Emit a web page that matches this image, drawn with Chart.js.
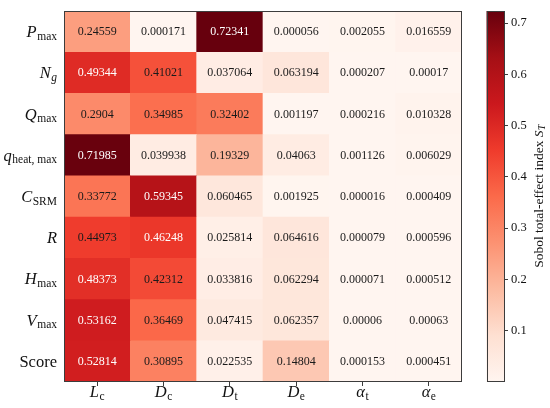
<!DOCTYPE html>
<html>
<head>
<meta charset="utf-8">
<script src="https://cdn.jsdelivr.net/npm/chart.js@4.4.0/dist/chart.umd.min.js"></script>
<style>
  html, body { margin: 0; padding: 0; background: #fff; }
  #wrap { width: 550px; height: 408px; }
</style>
</head>
<body>
<div id="wrap"><canvas id="heat"></canvas></div>
<script>
// Input parameters (columns) and model outputs (rows), as [symbol, subscript]
const inputLabels = [['L', 'c'], ['D', 'c'], ['D', 't'], ['D', 'e'], ['α', 't'], ['α', 'e']];
const outputLabels = [['P', 'max'], ['N', 'g'], ['Q', 'max'], ['q', 'heat, max'], ['C', 'SRM'],
                      ['R', ''], ['H', 'max'], ['V', 'max'], ['Score', '']];

// Sobol total-effect index S_T, one array per output
const stPmax  = [0.24559, 0.000171, 0.72341, 0.000056, 0.002055, 0.016559];
const stNg    = [0.49344, 0.41021, 0.037064, 0.063194, 0.000207, 0.00017];
const stQmax  = [0.2904, 0.34985, 0.32402, 0.001197, 0.000216, 0.010328];
const stQheat = [0.71985, 0.039938, 0.19329, 0.04063, 0.001126, 0.006029];
const stCsrm  = [0.33772, 0.59345, 0.060465, 0.001925, 0.000016, 0.000409];
const stR     = [0.44973, 0.46248, 0.025814, 0.064616, 0.000079, 0.000596];
const stHmax  = [0.48373, 0.42312, 0.033816, 0.062294, 0.000071, 0.000512];
const stVmax  = [0.53162, 0.36469, 0.047415, 0.062357, 0.00006, 0.00063];
const stScore = [0.52814, 0.30895, 0.022535, 0.14804, 0.000153, 0.000451];
const stRows = [stPmax, stNg, stQmax, stQheat, stCsrm, stR, stHmax, stVmax, stScore];

const cbTicks = [0.1, 0.2, 0.3, 0.4, 0.5, 0.6, 0.7];

// matplotlib "Reds" colormap
const redsStops = ['#fff5f0', '#fee0d2', '#fcbba1', '#fc9272', '#fb6a4a', '#ef3b2c', '#cb181d', '#a50f15', '#67000d'];
const FONT = '"Liberation Serif", "DejaVu Serif", serif';

const allVals = stRows.flat();
const vmin = Math.min(...allVals);
const vmax = Math.max(...allVals);

function hexToRgb(h) {
    return [1, 3, 5].map(i => parseInt(h.substr(i, 2), 16));
}
const redsRgb = redsStops.map(hexToRgb);

function reds(v) {
    let t = (v - vmin) / (vmax - vmin);
    t = Math.max(0, Math.min(1, t)) * (redsRgb.length - 1);
    const k = Math.min(Math.floor(t), redsRgb.length - 2);
    const f = t - k;
    const a = redsRgb[k], b = redsRgb[k + 1];
    const c = a.map((x, i) => Math.round(x + (b[i] - x) * f));
    return `rgb(${c[0]},${c[1]},${c[2]})`;
}

// one floating bar per cell: row r spans [r, r+1] on the reversed y scale
const colKeys = inputLabels.map((l, j) => 'c' + j);
const cells = [];
stRows.forEach((row, r) => {
    row.forEach((v, j) => cells.push({ x: colKeys[j], y: [r, r + 1], v: v }));
});

// symbol with subscript, e.g. P_max
function drawSymbol(ctx, parts, x, y, align, size, subSize, subDrop) {
    const [base, sub] = parts;
    const baseFont = (base.length === 1 ? 'italic ' : '') + size + 'px ' + FONT;
    const subItalic = sub === 'g' || sub === 'T';
    const subFont = (subItalic ? 'italic ' : '') + subSize + 'px ' + FONT;
    ctx.font = baseFont;
    const wb = ctx.measureText(base).width;
    ctx.font = subFont;
    const ws = sub ? ctx.measureText(sub).width + 0.5 : 0;
    const w = wb + ws;
    let x0 = x;
    if (align === 'right') x0 = x - w;
    else if (align === 'center') x0 = x - w / 2;
    ctx.textAlign = 'left';
    ctx.textBaseline = 'alphabetic';
    ctx.font = baseFont;
    ctx.fillText(base, x0, y);
    if (sub) {
        ctx.font = subFont;
        ctx.fillText(sub, x0 + wb + 0.5, y + subDrop);
    }
}

const heatDecor = {
    id: 'heatDecor',
    afterDatasetsDraw(chart) {
        const { ctx, chartArea: a, scales } = chart;
        ctx.save();

        // cell annotations
        ctx.font = '12px ' + FONT;
        ctx.textAlign = 'center';
        ctx.textBaseline = 'middle';
        stRows.forEach((row, r) => {
            row.forEach((v, j) => {
                ctx.fillStyle = v > 0.455 ? '#ffffff' : '#1a1a1a';
                ctx.fillText(String(v), scales.x.getPixelForValue(j), scales.y.getPixelForValue(r + 0.5) + 0.5);
            });
        });

        // frame
        ctx.strokeStyle = '#3c3c3c';
        ctx.lineWidth = 1;
        ctx.strokeRect(a.left + 0.5, a.top + 0.5, a.right - a.left - 1, a.bottom - a.top - 1);

        // row labels
        ctx.fillStyle = '#111';
        outputLabels.forEach((lab, r) => {
            drawSymbol(ctx, lab, a.left - 7, scales.y.getPixelForValue(r + 0.5) + 5.5, 'right', 16.5, 11.5, 2.5);
        });

        // column labels
        inputLabels.forEach((lab, j) => {
            drawSymbol(ctx, lab, scales.x.getPixelForValue(j), 397, 'center', 16.5, 11.5, 2.5);
        });

        // colour bar
        const cb = scales.cb;
        const bw = 17.5;
        const x1 = cb.left;
        const x0 = x1 - bw;
        const g = ctx.createLinearGradient(0, cb.getPixelForValue(vmin), 0, cb.getPixelForValue(vmax));
        redsStops.forEach((c, k) => g.addColorStop(k / (redsStops.length - 1), c));
        ctx.fillStyle = g;
        ctx.fillRect(x0, cb.top, bw, cb.bottom - cb.top);
        ctx.strokeStyle = '#3c3c3c';
        ctx.strokeRect(Math.round(x0) + 0.5, cb.top + 0.5, Math.round(bw) - 1, cb.bottom - cb.top - 1);

        // colour bar label
        ctx.translate(539, (cb.top + cb.bottom) / 2);
        ctx.rotate(-Math.PI / 2);
        ctx.fillStyle = '#111';
        const txt = 'Sobol total-effect index ';
        ctx.font = '13.5px ' + FONT;
        const w1 = ctx.measureText(txt).width;
        ctx.font = 'italic 13.5px ' + FONT;
        const w2 = ctx.measureText('S').width;
        ctx.font = 'italic 9.5px ' + FONT;
        const w3 = ctx.measureText('T').width;
        const sx = -(w1 + w2 + w3) / 2;
        ctx.textAlign = 'left';
        ctx.textBaseline = 'middle';
        ctx.font = '13.5px ' + FONT;
        ctx.fillText(txt, sx, 0);
        ctx.font = 'italic 13.5px ' + FONT;
        ctx.fillText('S', sx + w1, 0);
        ctx.font = 'italic 9.5px ' + FONT;
        ctx.fillText('T', sx + w1 + w2 + 0.5, 3);

        ctx.restore();
    }
};

new Chart(document.getElementById('heat'), {
    type: 'bar',
    data: {
        labels: colKeys,
        datasets: [{
            data: cells,
            backgroundColor: cells.map(c => reds(c.v)),
            borderWidth: 0,
            barPercentage: 1,
            categoryPercentage: 1
        }]
    },
    options: {
        responsive: true,
        maintainAspectRatio: false,
        animation: false,
        events: [],
        layout: { padding: { top: 11, left: 0, right: 0, bottom: 0 } },
        plugins: { legend: { display: false }, tooltip: { enabled: false } },
        scales: {
            x: {
                type: 'category',
                position: 'bottom',
                offset: true,
                grid: { display: true, drawOnChartArea: false, drawTicks: true, tickLength: 4, offset: false, color: '#3c3c3c' },
                border: { display: false },
                ticks: { display: false },
                afterFit: s => { s.height = 26; }
            },
            y: {
                type: 'linear',
                position: 'left',
                min: 0,
                max: outputLabels.length,
                reverse: true,
                grid: { display: false },
                border: { display: false },
                ticks: { display: false },
                afterFit: s => { s.width = 64; }
            },
            gap: {
                type: 'linear',
                position: 'right',
                weight: 1,
                grid: { display: false },
                border: { display: false },
                ticks: { display: false },
                afterFit: s => { s.width = 42; }
            },
            cb: {
                type: 'linear',
                position: 'right',
                weight: 2,
                min: vmin,
                max: vmax,
                afterBuildTicks: s => { s.ticks = cbTicks.map(v => ({ value: v })); },
                grid: { display: true, drawOnChartArea: false, drawTicks: true, tickLength: 4, color: '#3c3c3c' },
                border: { display: false },
                ticks: {
                    padding: 3,
                    color: '#111',
                    font: { family: FONT, size: 12.5 },
                    callback: v => v.toFixed(1)
                },
                afterFit: s => { s.width = 46; }
            }
        }
    },
    plugins: [heatDecor]
});
</script>
</body>
</html>
